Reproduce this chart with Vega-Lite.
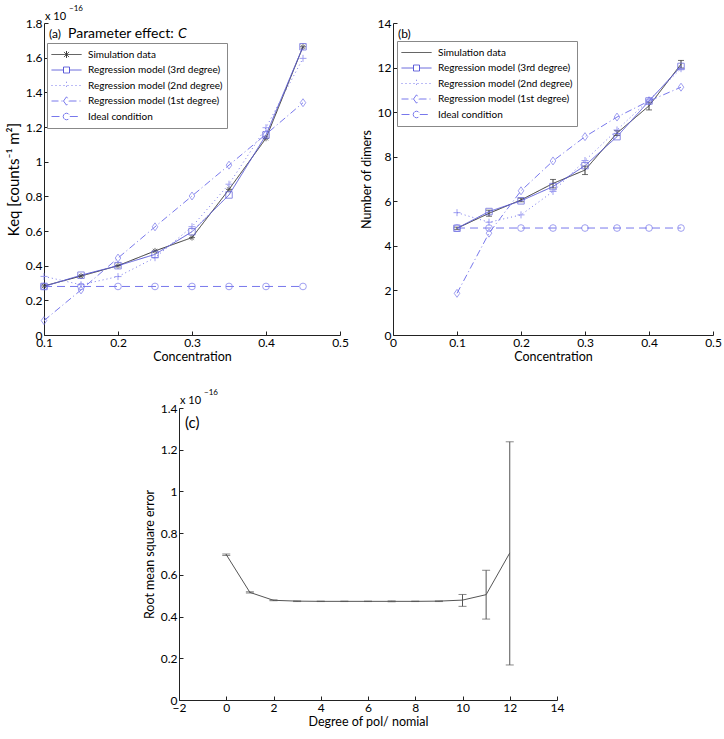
{
  "$schema": "https://vega.github.io/schema/vega-lite/v6.json",
  "padding": {"left": 6, "top": 5, "right": 5, "bottom": 5},
  "background": "white",
  "config": {
    "font": "Lato",
    "view": {"stroke": null},
    "axis": {"grid": false, "domainColor": "#222", "tickColor": "#222", "labelColor": "#000", "titleColor": "#000", "labelFont": "Lato", "titleFont": "Lato", "labelFontSize": 12, "titleFontSize": 12.5, "titleFontWeight": "normal", "tickSize": -4, "labelPadding": 6, "labelFlush": false, "format": "~g", "labelOverlap": false, "tickCount": 20},
    "legend": {"labelFont": "Lato"}
  },
  "datasets": {
    "a": [
      {"series": "Simulation data", "x": 0.1, "y": 0.283}, {"series": "Simulation data", "x": 0.15, "y": 0.34}, {"series": "Simulation data", "x": 0.2, "y": 0.4}, {"series": "Simulation data", "x": 0.25, "y": 0.485}, {"series": "Simulation data", "x": 0.3, "y": 0.562}, {"series": "Simulation data", "x": 0.35, "y": 0.84}, {"series": "Simulation data", "x": 0.4, "y": 1.135}, {"series": "Simulation data", "x": 0.45, "y": 1.663},
      {"series": "Regression model (3rd degree)", "x": 0.1, "y": 0.28}, {"series": "Regression model (3rd degree)", "x": 0.15, "y": 0.345}, {"series": "Regression model (3rd degree)", "x": 0.2, "y": 0.4}, {"series": "Regression model (3rd degree)", "x": 0.25, "y": 0.465}, {"series": "Regression model (3rd degree)", "x": 0.3, "y": 0.596}, {"series": "Regression model (3rd degree)", "x": 0.35, "y": 0.808}, {"series": "Regression model (3rd degree)", "x": 0.4, "y": 1.154}, {"series": "Regression model (3rd degree)", "x": 0.45, "y": 1.663},
      {"series": "Regression model (2nd degree)", "x": 0.1, "y": 0.338}, {"series": "Regression model (2nd degree)", "x": 0.15, "y": 0.29}, {"series": "Regression model (2nd degree)", "x": 0.2, "y": 0.337}, {"series": "Regression model (2nd degree)", "x": 0.25, "y": 0.446}, {"series": "Regression model (2nd degree)", "x": 0.3, "y": 0.625}, {"series": "Regression model (2nd degree)", "x": 0.35, "y": 0.87}, {"series": "Regression model (2nd degree)", "x": 0.4, "y": 1.196}, {"series": "Regression model (2nd degree)", "x": 0.45, "y": 1.596},
      {"series": "Regression model (1st degree)", "x": 0.1, "y": 0.083}, {"series": "Regression model (1st degree)", "x": 0.15, "y": 0.26}, {"series": "Regression model (1st degree)", "x": 0.2, "y": 0.444}, {"series": "Regression model (1st degree)", "x": 0.25, "y": 0.624}, {"series": "Regression model (1st degree)", "x": 0.3, "y": 0.802}, {"series": "Regression model (1st degree)", "x": 0.35, "y": 0.98}, {"series": "Regression model (1st degree)", "x": 0.4, "y": 1.158}, {"series": "Regression model (1st degree)", "x": 0.45, "y": 1.34},
      {"series": "Ideal condition", "x": 0.1, "y": 0.28}, {"series": "Ideal condition", "x": 0.15, "y": 0.28}, {"series": "Ideal condition", "x": 0.2, "y": 0.28}, {"series": "Ideal condition", "x": 0.25, "y": 0.28}, {"series": "Ideal condition", "x": 0.3, "y": 0.28}, {"series": "Ideal condition", "x": 0.35, "y": 0.28}, {"series": "Ideal condition", "x": 0.4, "y": 0.28}, {"series": "Ideal condition", "x": 0.45, "y": 0.28}
    ],
    "b": [
      {"series": "Simulation data", "x": 0.1, "y": 4.79}, {"series": "Simulation data", "x": 0.15, "y": 5.46}, {"series": "Simulation data", "x": 0.2, "y": 6.06}, {"series": "Simulation data", "x": 0.25, "y": 6.8}, {"series": "Simulation data", "x": 0.3, "y": 7.4}, {"series": "Simulation data", "x": 0.35, "y": 9.06}, {"series": "Simulation data", "x": 0.4, "y": 10.28}, {"series": "Simulation data", "x": 0.45, "y": 12.15},
      {"series": "Regression model (3rd degree)", "x": 0.1, "y": 4.79}, {"series": "Regression model (3rd degree)", "x": 0.15, "y": 5.54}, {"series": "Regression model (3rd degree)", "x": 0.2, "y": 6.02}, {"series": "Regression model (3rd degree)", "x": 0.25, "y": 6.66}, {"series": "Regression model (3rd degree)", "x": 0.3, "y": 7.6}, {"series": "Regression model (3rd degree)", "x": 0.35, "y": 8.9}, {"series": "Regression model (3rd degree)", "x": 0.4, "y": 10.5}, {"series": "Regression model (3rd degree)", "x": 0.45, "y": 12.05},
      {"series": "Regression model (2nd degree)", "x": 0.1, "y": 5.49}, {"series": "Regression model (2nd degree)", "x": 0.15, "y": 5.06}, {"series": "Regression model (2nd degree)", "x": 0.2, "y": 5.39}, {"series": "Regression model (2nd degree)", "x": 0.25, "y": 6.44}, {"series": "Regression model (2nd degree)", "x": 0.3, "y": 7.83}, {"series": "Regression model (2nd degree)", "x": 0.35, "y": 9.2}, {"series": "Regression model (2nd degree)", "x": 0.4, "y": 10.55}, {"series": "Regression model (2nd degree)", "x": 0.45, "y": 11.95},
      {"series": "Regression model (1st degree)", "x": 0.1, "y": 1.87}, {"series": "Regression model (1st degree)", "x": 0.15, "y": 4.57}, {"series": "Regression model (1st degree)", "x": 0.2, "y": 6.47}, {"series": "Regression model (1st degree)", "x": 0.25, "y": 7.81}, {"series": "Regression model (1st degree)", "x": 0.3, "y": 8.9}, {"series": "Regression model (1st degree)", "x": 0.35, "y": 9.78}, {"series": "Regression model (1st degree)", "x": 0.4, "y": 10.5}, {"series": "Regression model (1st degree)", "x": 0.45, "y": 11.12},
      {"series": "Ideal condition", "x": 0.1, "y": 4.8}, {"series": "Ideal condition", "x": 0.15, "y": 4.8}, {"series": "Ideal condition", "x": 0.2, "y": 4.8}, {"series": "Ideal condition", "x": 0.25, "y": 4.8}, {"series": "Ideal condition", "x": 0.3, "y": 4.8}, {"series": "Ideal condition", "x": 0.35, "y": 4.8}, {"series": "Ideal condition", "x": 0.4, "y": 4.8}, {"series": "Ideal condition", "x": 0.45, "y": 4.8}
    ],
    "berr": [
      {"x": 0.1, "lo": 4.74, "hi": 4.84}, {"x": 0.15, "lo": 5.33, "hi": 5.6}, {"x": 0.2, "lo": 5.98, "hi": 6.14}, {"x": 0.25, "lo": 6.6, "hi": 6.98}, {"x": 0.3, "lo": 7.2, "hi": 7.58}, {"x": 0.35, "lo": 8.95, "hi": 9.17}, {"x": 0.4, "lo": 10.1, "hi": 10.45}, {"x": 0.45, "lo": 11.98, "hi": 12.32}
    ],
    "c": [
      {"deg": 0, "rmse": 0.697}, {"deg": 1, "rmse": 0.516}, {"deg": 2, "rmse": 0.478}, {"deg": 3, "rmse": 0.474}, {"deg": 4, "rmse": 0.473}, {"deg": 5, "rmse": 0.473}, {"deg": 6, "rmse": 0.473}, {"deg": 7, "rmse": 0.473}, {"deg": 8, "rmse": 0.473}, {"deg": 9, "rmse": 0.474}, {"deg": 10, "rmse": 0.479}, {"deg": 11, "rmse": 0.505}, {"deg": 12, "rmse": 0.705}
    ],
    "cerr": [
      {"deg": 0, "lo": 0.693, "hi": 0.7}, {"deg": 1, "lo": 0.513, "hi": 0.519}, {"deg": 2, "lo": 0.476, "hi": 0.48}, {"deg": 3, "lo": 0.472, "hi": 0.475}, {"deg": 4, "lo": 0.472, "hi": 0.474}, {"deg": 5, "lo": 0.472, "hi": 0.474}, {"deg": 6, "lo": 0.472, "hi": 0.474}, {"deg": 7, "lo": 0.471, "hi": 0.475}, {"deg": 8, "lo": 0.472, "hi": 0.474}, {"deg": 9, "lo": 0.472, "hi": 0.475}, {"deg": 10, "lo": 0.449, "hi": 0.506}, {"deg": 11, "lo": 0.388, "hi": 0.622}, {"deg": 12, "lo": 0.168, "hi": 1.238}
    ]
  },
  "spacing": 26,
  "resolve": {
    "scale": {"x": "independent", "y": "independent", "color": "independent", "strokeDash": "independent"},
    "legend": {"color": "independent", "strokeDash": "independent"}
  },
  "vconcat": [
    {
      "hconcat": [
        {
          "width": 296,
          "height": 312,
          "layer": [
            {
              "data": {"name": "a"},
              "mark": {"type": "line", "strokeWidth": 1},
              "encoding": {
                "x": {"field": "x", "type": "quantitative", "scale": {"domain": [0.1, 0.5], "nice": false, "zero": false}, "axis": {"title": "Concentration", "values": [0.1, 0.2, 0.3, 0.4, 0.5], "titlePadding": 2, "labelOverlap": false}},
                "y": {"field": "y", "type": "quantitative", "scale": {"domain": [0, 1.8], "nice": false}, "axis": {"title": "Keq [counts⁻¹ m²]", "titleFontSize": 15, "values": [0, 0.2, 0.4, 0.6, 0.8, 1, 1.2, 1.4, 1.6, 1.8], "tickCount": 20, "titlePadding": 4, "labelOverlap": false}},
                "color": {"field": "series", "type": "nominal", "sort": null, "scale": {"domain": ["Simulation data", "Regression model (3rd degree)", "Regression model (2nd degree)", "Regression model (1st degree)", "Ideal condition"], "range": ["#333333", "#5a5ad8", "#7878ec", "#7878ec", "#7878ec"]},
                  "legend": {"orient": "none", "legendX": 3, "legendY": 20, "title": null, "padding": 4, "strokeColor": "#888", "fillColor": "white", "symbolSize": 900, "clipHeight": 15, "rowPadding": 0.5, "labelFontSize": 10, "labelOffset": 6, "symbolStrokeWidth": 1, "labelLimit": 300, "cornerRadius": 0,
                    "encode": {"symbols": {"update": {"fill": {"value": "transparent"}, "shape": {"signal": "datum.value === 'Simulation data' ? 'M-1,0L1,0M0,-0.23L0,0.23M-0.17,-0.17L0.17,0.17M-0.17,0.17L0.17,-0.17' : datum.value === 'Regression model (3rd degree)' ? 'M-1,0L-0.2,0M0.2,0L1,0M-0.2,-0.2L0.2,-0.2L0.2,0.2L-0.2,0.2Z' : datum.value === 'Regression model (2nd degree)' ? 'M-1,0L1,0M0,-0.25L0,0.25' : datum.value === 'Regression model (1st degree)' ? 'M-1,0L-0.2,0M0.2,0L1,0M-0.2,0L0,-0.28L0.2,0L0,0.28Z' : 'M-1,0L-0.22,0M0.22,0L1,0M-0.22,0L-0.19,-0.11L-0.11,-0.19L0,-0.22L0.11,-0.19L0.19,-0.11L0.22,0L0.19,0.11L0.11,0.19L0,0.22L-0.11,0.19L-0.19,0.11Z'"}}}}}},
                "strokeDash": {"field": "series", "type": "nominal", "sort": null, "scale": {"domain": ["Simulation data", "Regression model (3rd degree)", "Regression model (2nd degree)", "Regression model (1st degree)", "Ideal condition"], "range": [[1, 0], [1, 0], [1, 3], [7, 3, 1, 3], [8, 5]]}, "legend": {"orient": "none", "legendX": 3, "legendY": 20, "title": null}}
              }
            },
            {"data": {"name": "a"}, "transform": [{"filter": "datum.series === 'Simulation data'"}], "mark": {"type": "point", "filled": false, "strokeWidth": 1, "size": 36, "color": "#333333", "shape": "M-1,0L1,0M0,-1L0,1M-0.7,-0.7L0.7,0.7M-0.7,0.7L0.7,-0.7"}, "encoding": {"x": {"field": "x", "type": "quantitative"}, "y": {"field": "y", "type": "quantitative"}}},
            {"data": {"name": "a"}, "transform": [{"filter": "datum.series === 'Regression model (3rd degree)'"}], "mark": {"type": "point", "filled": false, "strokeWidth": 1, "size": 42, "color": "#5a5ad8", "shape": "square"}, "encoding": {"x": {"field": "x", "type": "quantitative"}, "y": {"field": "y", "type": "quantitative"}}},
            {"data": {"name": "a"}, "transform": [{"filter": "datum.series === 'Regression model (2nd degree)'"}], "mark": {"type": "point", "filled": false, "strokeWidth": 1, "size": 49, "color": "#7878ec", "shape": "M-1,0L1,0M0,-1L0,1"}, "encoding": {"x": {"field": "x", "type": "quantitative"}, "y": {"field": "y", "type": "quantitative"}}},
            {"data": {"name": "a"}, "transform": [{"filter": "datum.series === 'Regression model (1st degree)'"}], "mark": {"type": "point", "filled": false, "strokeWidth": 1, "size": 64, "color": "#7878ec", "shape": "M-0.7,0L0,-1L0.7,0L0,1Z"}, "encoding": {"x": {"field": "x", "type": "quantitative"}, "y": {"field": "y", "type": "quantitative"}}},
            {"data": {"name": "a"}, "transform": [{"filter": "datum.series === 'Ideal condition'"}], "mark": {"type": "point", "filled": false, "strokeWidth": 1, "size": 45, "color": "#7878ec", "shape": "circle"}, "encoding": {"x": {"field": "x", "type": "quantitative"}, "y": {"field": "y", "type": "quantitative"}}},
            {"data": {"values": [{}]}, "mark": {"type": "text", "text": "(a)", "fontSize": 12, "align": "left", "baseline": "alphabetic", "dx": 5, "dy": 15, "color": "#000"}, "encoding": {"x": {"datum": 0.1}, "y": {"datum": 1.8}}},
            {"data": {"values": [{}]}, "mark": {"type": "text", "text": "Parameter effect:", "fontSize": 14, "align": "left", "baseline": "alphabetic", "dx": 24, "dy": 15, "color": "#000"}, "encoding": {"x": {"datum": 0.1}, "y": {"datum": 1.8}}},
            {"data": {"values": [{}]}, "mark": {"type": "text", "text": "C", "fontSize": 14, "fontStyle": "italic", "align": "left", "baseline": "alphabetic", "dx": 134, "dy": 15, "color": "#000"}, "encoding": {"x": {"datum": 0.1}, "y": {"datum": 1.8}}},
            {"data": {"values": [{}]}, "mark": {"type": "text", "text": "x 10", "fontSize": 11, "align": "left", "baseline": "alphabetic", "dx": 1, "dy": -3, "color": "#000"}, "encoding": {"x": {"datum": 0.1}, "y": {"datum": 1.8}}},
            {"data": {"values": [{}]}, "mark": {"type": "text", "text": "−16", "fontSize": 8, "align": "left", "baseline": "alphabetic", "dx": 25, "dy": -12, "color": "#000"}, "encoding": {"x": {"datum": 0.1}, "y": {"datum": 1.8}}}
          ]
        },
        {
          "width": 320,
          "height": 312,
          "layer": [
            {
              "data": {"name": "berr"},
              "mark": {"type": "rule", "color": "#333", "strokeWidth": 1},
              "encoding": {"x": {"field": "x", "type": "quantitative"}, "y": {"field": "lo", "type": "quantitative"}, "y2": {"field": "hi"}}
            },
            {
              "data": {"name": "berr"},
              "mark": {"type": "tick", "orient": "horizontal", "color": "#333", "size": 6, "thickness": 1},
              "encoding": {"x": {"field": "x", "type": "quantitative"}, "y": {"field": "lo", "type": "quantitative"}}
            },
            {
              "data": {"name": "berr"},
              "mark": {"type": "tick", "orient": "horizontal", "color": "#333", "size": 6, "thickness": 1},
              "encoding": {"x": {"field": "x", "type": "quantitative"}, "y": {"field": "hi", "type": "quantitative"}}
            },
            {
              "data": {"name": "b"},
              "mark": {"type": "line", "strokeWidth": 1},
              "encoding": {
                "x": {"field": "x", "type": "quantitative", "scale": {"domain": [0, 0.5], "nice": false, "zero": false}, "axis": {"title": "Concentration", "values": [0, 0.1, 0.2, 0.3, 0.4, 0.5], "titlePadding": 2, "labelOverlap": false}},
                "y": {"field": "y", "type": "quantitative", "scale": {"domain": [0, 14], "nice": false}, "axis": {"title": "Number of dimers", "values": [0, 2, 4, 6, 8, 10, 12, 14], "titlePadding": 4, "labelOverlap": false}},
                "color": {"field": "series", "type": "nominal", "sort": null, "scale": {"domain": ["Simulation data", "Regression model (3rd degree)", "Regression model (2nd degree)", "Regression model (1st degree)", "Ideal condition"], "range": ["#333333", "#5a5ad8", "#7878ec", "#7878ec", "#7878ec"]},
                  "legend": {"orient": "none", "legendX": 4, "legendY": 18, "title": null, "padding": 4, "strokeColor": "#888", "fillColor": "white", "symbolSize": 900, "clipHeight": 15, "rowPadding": 0.5, "labelFontSize": 10, "labelOffset": 6, "symbolStrokeWidth": 1, "labelLimit": 300, "cornerRadius": 0,
                    "encode": {"symbols": {"update": {"fill": {"value": "transparent"}, "shape": {"signal": "datum.value === 'Simulation data' ? 'M-1,0L1,0' : datum.value === 'Regression model (3rd degree)' ? 'M-1,0L-0.2,0M0.2,0L1,0M-0.2,-0.2L0.2,-0.2L0.2,0.2L-0.2,0.2Z' : datum.value === 'Regression model (2nd degree)' ? 'M-1,0L1,0M0,-0.25L0,0.25' : datum.value === 'Regression model (1st degree)' ? 'M-1,0L-0.2,0M0.2,0L1,0M-0.2,0L0,-0.28L0.2,0L0,0.28Z' : 'M-1,0L-0.22,0M0.22,0L1,0M-0.22,0L-0.19,-0.11L-0.11,-0.19L0,-0.22L0.11,-0.19L0.19,-0.11L0.22,0L0.19,0.11L0.11,0.19L0,0.22L-0.11,0.19L-0.19,0.11Z'"}}}}}},
                "strokeDash": {"field": "series", "type": "nominal", "sort": null, "scale": {"domain": ["Simulation data", "Regression model (3rd degree)", "Regression model (2nd degree)", "Regression model (1st degree)", "Ideal condition"], "range": [[1, 0], [1, 0], [1, 3], [7, 3, 1, 3], [8, 5]]}, "legend": {"orient": "none", "legendX": 4, "legendY": 18, "title": null}}
              }
            },
            {"data": {"name": "b"}, "transform": [{"filter": "datum.series === 'Regression model (3rd degree)'"}], "mark": {"type": "point", "filled": false, "strokeWidth": 1, "size": 42, "color": "#5a5ad8", "shape": "square"}, "encoding": {"x": {"field": "x", "type": "quantitative"}, "y": {"field": "y", "type": "quantitative"}}},
            {"data": {"name": "b"}, "transform": [{"filter": "datum.series === 'Regression model (2nd degree)'"}], "mark": {"type": "point", "filled": false, "strokeWidth": 1, "size": 49, "color": "#7878ec", "shape": "M-1,0L1,0M0,-1L0,1"}, "encoding": {"x": {"field": "x", "type": "quantitative"}, "y": {"field": "y", "type": "quantitative"}}},
            {"data": {"name": "b"}, "transform": [{"filter": "datum.series === 'Regression model (1st degree)'"}], "mark": {"type": "point", "filled": false, "strokeWidth": 1, "size": 64, "color": "#7878ec", "shape": "M-0.7,0L0,-1L0.7,0L0,1Z"}, "encoding": {"x": {"field": "x", "type": "quantitative"}, "y": {"field": "y", "type": "quantitative"}}},
            {"data": {"name": "b"}, "transform": [{"filter": "datum.series === 'Ideal condition'"}], "mark": {"type": "point", "filled": false, "strokeWidth": 1, "size": 45, "color": "#7878ec", "shape": "circle"}, "encoding": {"x": {"field": "x", "type": "quantitative"}, "y": {"field": "y", "type": "quantitative"}}},
            {"data": {"values": [{}]}, "mark": {"type": "text", "text": "(b)", "fontSize": 12, "align": "left", "baseline": "alphabetic", "dx": 5, "dy": 15, "color": "#000"}, "encoding": {"x": {"datum": 0}, "y": {"datum": 14}}}
          ]
        }
      ],
      "spacing": 53,
      "bounds": "flush",
      "resolve": {
        "scale": {"x": "independent", "y": "independent", "color": "independent", "strokeDash": "independent"},
        "legend": {"color": "independent", "strokeDash": "independent"}
      }
    },
    {
      "hconcat": [
        {"width": 135, "height": 292, "data": {"values": [{}]}, "mark": {"type": "text", "text": ""}, "encoding": {}},
        {
          "width": 378,
          "height": 292,
          "layer": [
            {
              "data": {"name": "cerr"},
              "mark": {"type": "rule", "color": "#555", "strokeWidth": 1},
              "encoding": {"x": {"field": "deg", "type": "quantitative"}, "y": {"field": "lo", "type": "quantitative"}, "y2": {"field": "hi"}}
            },
            {
              "data": {"name": "cerr"},
              "mark": {"type": "tick", "orient": "horizontal", "color": "#555", "size": 8, "thickness": 1},
              "encoding": {"x": {"field": "deg", "type": "quantitative"}, "y": {"field": "lo", "type": "quantitative"}}
            },
            {
              "data": {"name": "cerr"},
              "mark": {"type": "tick", "orient": "horizontal", "color": "#555", "size": 8, "thickness": 1},
              "encoding": {"x": {"field": "deg", "type": "quantitative"}, "y": {"field": "hi", "type": "quantitative"}}
            },
            {
              "data": {"name": "c"},
              "mark": {"type": "line", "color": "#555", "strokeWidth": 1},
              "encoding": {
                "x": {"field": "deg", "type": "quantitative", "scale": {"domain": [-2, 14], "nice": false, "zero": false}, "axis": {"title": "Degree of pol/ nomial", "values": [-2, 0, 2, 4, 6, 8, 10, 12, 14], "titlePadding": 2, "labelOverlap": false}},
                "y": {"field": "rmse", "type": "quantitative", "scale": {"domain": [0, 1.4], "nice": false}, "axis": {"title": "Root mean square error", "values": [0, 0.2, 0.4, 0.6, 0.8, 1, 1.2, 1.4], "titlePadding": 4, "labelOverlap": false}}
              }
            },
            {"data": {"values": [{}]}, "mark": {"type": "text", "text": "(c)", "fontSize": 15, "align": "left", "baseline": "alphabetic", "dx": 6, "dy": 20, "color": "#000"}, "encoding": {"x": {"datum": -2}, "y": {"datum": 1.4}}},
            {"data": {"values": [{}]}, "mark": {"type": "text", "text": "x 10", "fontSize": 11, "align": "left", "baseline": "alphabetic", "dx": 1, "dy": -4, "color": "#000"}, "encoding": {"x": {"datum": -2}, "y": {"datum": 1.4}}},
            {"data": {"values": [{}]}, "mark": {"type": "text", "text": "−16", "fontSize": 8, "align": "left", "baseline": "alphabetic", "dx": 25, "dy": -13, "color": "#000"}, "encoding": {"x": {"datum": -2}, "y": {"datum": 1.4}}}
          ]
        }
      ],
      "spacing": 0,
      "bounds": "flush"
    }
  ]
}
